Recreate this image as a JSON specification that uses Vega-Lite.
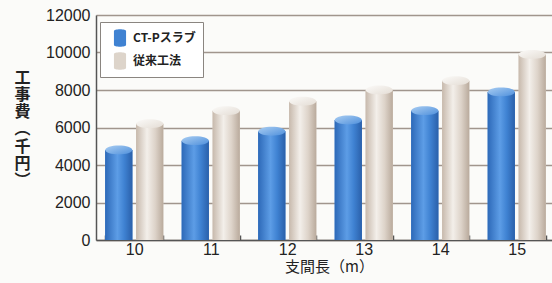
{
  "$schema": "https://vega.github.io/schema/vega-lite/v6.json",
  "width": 459,
  "height": 225,
  "autosize": {"type": "none"},
  "padding": {"left": 96, "top": 15, "right": 0, "bottom": 43},
  "background": "#fbfbf9",
  "data": {
    "values": [
      {"span": "10", "method": "CT-Pスラブ", "cost": 4800},
      {"span": "11", "method": "CT-Pスラブ", "cost": 5300},
      {"span": "12", "method": "CT-Pスラブ", "cost": 5800},
      {"span": "13", "method": "CT-Pスラブ", "cost": 6400},
      {"span": "14", "method": "CT-Pスラブ", "cost": 6900},
      {"span": "15", "method": "CT-Pスラブ", "cost": 7900},
      {"span": "10", "method": "従来工法", "cost": 6200},
      {"span": "11", "method": "従来工法", "cost": 6900},
      {"span": "12", "method": "従来工法", "cost": 7400},
      {"span": "13", "method": "従来工法", "cost": 8000},
      {"span": "14", "method": "従来工法", "cost": 8500},
      {"span": "15", "method": "従来工法", "cost": 9900}
    ]
  },
  "encoding": {
    "x": {
      "field": "span", "type": "nominal", "sort": null,
      "scale": {"paddingInner": 0.24, "paddingOuter": 0.12},
      "axis": {
        "title": "支間長（m）", "labelAngle": 0, "labelFontSize": 16, "labelFont": "Liberation Sans",
        "labelColor": "#222", "labelPadding": 6, "tickBand": "extent", "tickSize": -5,
        "tickColor": "#555", "tickWidth": 1.5, "domainColor": "#555", "domainWidth": 1.5,
        "titleFont": "Noto Sans CJK JP", "titleFontSize": 15, "titleFontWeight": "normal",
        "titleColor": "#222", "titlePadding": 2, "titleX": 233
      }
    },
    "xOffset": {"field": "method", "type": "nominal", "scale": {"paddingInner": 0.12, "paddingOuter": 0}},
    "y": {
      "field": "cost", "type": "quantitative",
      "scale": {"domain": [0, 12000]},
      "axis": {
        "values": [0, 2000, 4000, 6000, 8000, 10000, 12000], "format": "d",
        "labelFontSize": 16, "labelFont": "Liberation Sans", "labelColor": "#222", "labelPadding": 6,
        "ticks": false, "domainColor": "#555", "domainWidth": 1.5,
        "gridColor": "#a0958d", "gridWidth": 1.5,
        "title": ["工", "事", "費", "︵", "千", "円", "︶"],
        "titleAngle": 0, "titleX": -74, "titleY": 54, "titleAlign": "center", "titleBaseline": "top",
        "titleLineHeight": 17.3, "titleFont": "Noto Sans CJK JP", "titleFontSize": 16,
        "titleFontWeight": "bold", "titleColor": "#222"
      }
    }
  },
  "layer": [
    {
      "mark": {"type": "bar"},
      "encoding": {
        "color": {
          "field": "method", "type": "nominal",
          "scale": {"domain": ["CT-Pスラブ", "従来工法"], "range": ["#3f82d2", "#ddd4ca"]},
          "legend": {
            "title": null, "orient": "none", "legendX": 4, "legendY": 7,
            "fillColor": "#ffffff", "strokeColor": "#8a8580", "padding": 7,
            "labelFont": "Noto Sans CJK JP", "labelFontSize": 12, "labelFontWeight": "bold",
            "labelColor": "#222", "rowPadding": 5, "symbolOffset": 4, "labelLimit": 200,
            "symbolType": "M-0.7,-0.8 A0.7,0.2 0 0,1 0.7,-0.8 V0.8 A0.7,0.2 0 0,1 -0.7,0.8 Z",
            "symbolSize": 300, "symbolStrokeWidth": 0
          }
        }
      }
    },
    {
      "transform": [{"filter": "datum.method === 'CT-Pスラブ'"}],
      "mark": {
        "type": "bar",
        "fill": {
          "gradient": "linear", "x1": 0, "y1": 0, "x2": 1, "y2": 0,
          "stops": [
            {"offset": 0, "color": "#2d69b8"},
            {"offset": 0.45, "color": "#5d9de6"},
            {"offset": 0.7, "color": "#3f82d2"},
            {"offset": 1, "color": "#2a60aa"}
          ]
        }
      }
    },
    {
      "transform": [{"filter": "datum.method === '従来工法'"}],
      "mark": {
        "type": "bar",
        "fill": {
          "gradient": "linear", "x1": 0, "y1": 0, "x2": 1, "y2": 0,
          "stops": [
            {"offset": 0, "color": "#c7b9ac"},
            {"offset": 0.4, "color": "#f3efea"},
            {"offset": 0.7, "color": "#ddd3c9"},
            {"offset": 1, "color": "#b9aa9c"}
          ]
        }
      }
    },
    {
      "transform": [{"filter": "datum.method === 'CT-Pスラブ'"}],
      "mark": {
        "type": "point", "filled": true, "opacity": 1, "size": 729,
        "shape": "M-1,0 A1,0.33 0 1,1 1,0 A1,0.33 0 1,1 -1,0 Z",
        "fill": {
          "gradient": "linear", "x1": 0, "y1": 0, "x2": 1, "y2": 1,
          "stops": [
            {"offset": 0, "color": "#a9cdf2"},
            {"offset": 1, "color": "#4f90dc"}
          ]
        }
      }
    },
    {
      "transform": [{"filter": "datum.method === '従来工法'"}],
      "mark": {
        "type": "point", "filled": true, "opacity": 1, "size": 729,
        "shape": "M-1,0 A1,0.33 0 1,1 1,0 A1,0.33 0 1,1 -1,0 Z",
        "fill": {
          "gradient": "linear", "x1": 0, "y1": 0, "x2": 1, "y2": 1,
          "stops": [
            {"offset": 0, "color": "#fbfaf8"},
            {"offset": 1, "color": "#e4ddd5"}
          ]
        }
      }
    }
  ],
  "config": {"view": {"stroke": null}}
}
